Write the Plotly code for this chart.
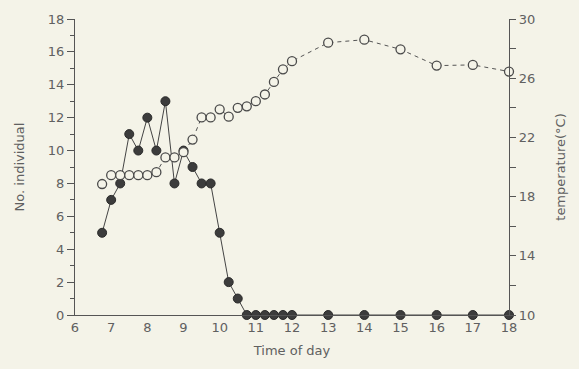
import plotly.graph_objects as go

# Data
count_time = [6.75, 7, 7.25, 7.5, 7.75, 8, 8.25, 8.5, 8.75, 9, 9.25, 9.5, 9.75, 10,
              10.25, 10.5, 10.75, 11, 11.25, 11.5, 11.75, 12, 13, 14, 15, 16, 17, 18]
count_vals = [5, 7, 8, 11, 10, 12, 10, 13, 8, 10, 9, 8, 8, 5,
              2, 1, 0, 0, 0, 0, 0, 0, 0, 0, 0, 0, 0, 0]

temp_time = [6.75, 7, 7.25, 7.5, 7.75, 8, 8.25, 8.5, 8.75, 9, 9.25, 9.5, 9.75, 10,
             10.25, 10.5, 10.75, 11, 11.25, 11.5, 11.75, 12, 13, 14, 15, 16, 17, 18]
temp_vals = [18.85, 19.45, 19.45, 19.45, 19.45, 19.45, 19.65, 20.65, 20.65, 21.0, 21.85, 23.35, 23.35, 23.9,
             23.4, 24.0, 24.1, 24.45, 24.9, 25.75, 26.6, 27.15, 28.4, 28.6, 27.95, 26.85, 26.9, 26.45]

x_ticks = list(range(6, 19))
left_ticks = list(range(0, 19, 2))
right_ticks = [10, 14, 18, 22, 26, 30]

BG = "#f4f3e8"
AX = "#555555"
FONT = "DejaVu Sans"

fig = go.Figure()

fig.add_trace(go.Scatter(
    x=count_time, y=count_vals, mode="lines+markers",
    line=dict(color="#444444", width=1),
    marker=dict(size=9, color="#3c3c3c", line=dict(color="#2a2a2a", width=1)),
    cliponaxis=False, showlegend=False, yaxis="y"))

fig.add_trace(go.Scatter(
    x=temp_time, y=temp_vals, mode="lines+markers",
    line=dict(color="#555555", width=1, dash="4px,4px"),
    marker=dict(size=9, color=BG, line=dict(color="#4a4a4a", width=1.3)),
    cliponaxis=False, showlegend=False, yaxis="y2"))

fig.update_layout(
    width=579, height=369,
    margin=dict(l=75, r=70, t=19, b=54, autoexpand=False),
    paper_bgcolor=BG, plot_bgcolor=BG,
    font=dict(family=FONT, size=13, color="#606060"),
    xaxis=dict(
        range=[6, 18], tickvals=x_ticks, ticktext=[str(v) for v in x_ticks],
        showgrid=False, zeroline=False, showline=True, linecolor=AX, linewidth=1.2,
        ticks="", ticklabelstandoff=0, automargin=False,
        title=dict(text="Time of day", standoff=12, font=dict(size=13)),
    ),
    yaxis=dict(
        range=[0, 18], tickvals=left_ticks, ticktext=[str(v) for v in left_ticks],
        showgrid=False, zeroline=False, showline=True, linecolor=AX, linewidth=1.2,
        ticks="outside", ticklen=7, tickcolor=AX, tickwidth=1, automargin=False,
        minor=dict(dtick=1, ticklen=4, tickcolor=AX, ticks="outside", showgrid=False),
        title=dict(text="No. individual", standoff=20, font=dict(size=13)),
    ),
    yaxis2=dict(
        range=[10, 30], tickvals=right_ticks, ticktext=[str(v) for v in right_ticks],
        overlaying="y", side="right", anchor="x", automargin=False,
        showgrid=False, zeroline=False, showline=True, linecolor=AX, linewidth=1.2,
        ticks="outside", ticklen=6, tickcolor=AX, tickwidth=1,
        minor=dict(dtick=2, ticklen=6, tickcolor=AX, ticks="outside", showgrid=False),
        title=dict(text="temperature(°C)", standoff=21, font=dict(size=13)),
    ),
)

fig.write_html(
    "out.html",
    config={"displayModeBar": False},
    post_script="document.body.style.margin='0';document.body.style.background='%s';" % BG,
)
